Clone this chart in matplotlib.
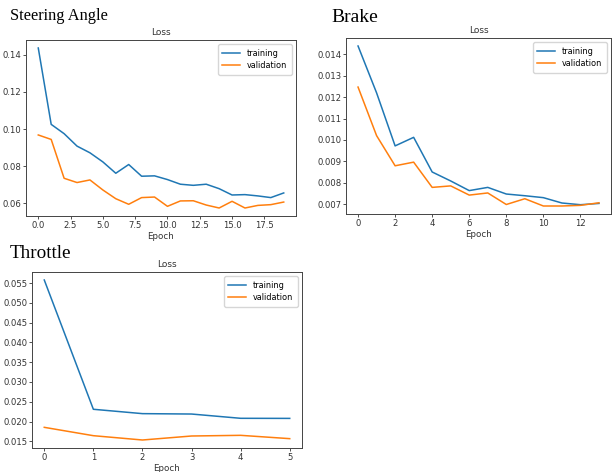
import matplotlib
matplotlib.use("Agg")
import matplotlib.pyplot as plt

steer_train = [0.1436, 0.1025, 0.0975, 0.0908, 0.0872, 0.0823, 0.0762, 0.0809, 0.0746, 0.0748,
               0.0728, 0.0703, 0.0697, 0.0703, 0.0679, 0.0645, 0.0647, 0.0640, 0.0631, 0.0656]
steer_val = [0.0968, 0.0944, 0.0735, 0.0712, 0.0726, 0.0672, 0.0625, 0.0595, 0.0631, 0.0634,
             0.0584, 0.0613, 0.0614, 0.0591, 0.0575, 0.0611, 0.0575, 0.0589, 0.0593, 0.0607]
brake_train = [0.01439, 0.0122, 0.00972, 0.01012, 0.0085, 0.00808, 0.00763, 0.00778, 0.00747,
               0.00739, 0.0073, 0.00705, 0.00697, 0.00703]
brake_val = [0.01247, 0.0102, 0.00879, 0.00896, 0.00778, 0.00785, 0.00742, 0.00752, 0.00698,
             0.00725, 0.00691, 0.00691, 0.00694, 0.00706]
throttle_train = [0.05576, 0.0231, 0.0220, 0.0219, 0.02082, 0.0208]
throttle_val = [0.01854, 0.01643, 0.01534, 0.01635, 0.01652, 0.01568]

panel_names = ["Steering Angle", "Brake", "Throttle"]
series_names = ["training", "validation"]

W, H = 612, 472
fig = plt.figure(figsize=(W / 100, H / 100), dpi=100)

def add_ax(l, r, t, b):
    return fig.add_axes([l / W, 1 - b / H, (r - l) / W, (b - t) / H])

specs = [
    ((26, 296, 40, 216), steer_train, steer_val, (10, 20), 11.8),
    ((346, 611, 38, 214), brake_train, brake_val, (331, 22.5), 14),
    ((32, 302, 272, 448), throttle_train, throttle_val, (10, 257.5), 13.8),
]

FS = 6.1
for name, (box, tr, va, (tx, ty), tfs) in zip(panel_names, specs):
    ax = add_ax(*box)
    ax.plot(range(len(tr)), tr, color="#1f77b4", lw=1.1, label=series_names[0])
    ax.plot(range(len(va)), va, color="#ff7f0e", lw=1.1, label=series_names[1])
    ax.set_title("Loss", fontsize=6.5, pad=3.5, color="#333333")
    ax.set_xlabel("Epoch", fontsize=6.3, labelpad=1.5, color="#333333")
    ax.tick_params(labelsize=FS, length=2, width=0.6, pad=1.3, colors="#333333")
    for s in ax.spines.values():
        s.set_linewidth(0.7)
        s.set_color("#444444")
    ax.legend(loc="upper right", fontsize=5.9, handlelength=2.2, borderpad=0.55,
              labelspacing=0.45)
    fig.text(tx / W, 1 - ty / H, name, fontsize=tfs, family="Liberation Serif",
             ha="left", va="baseline")

fig.savefig("out.png", dpi=100)
